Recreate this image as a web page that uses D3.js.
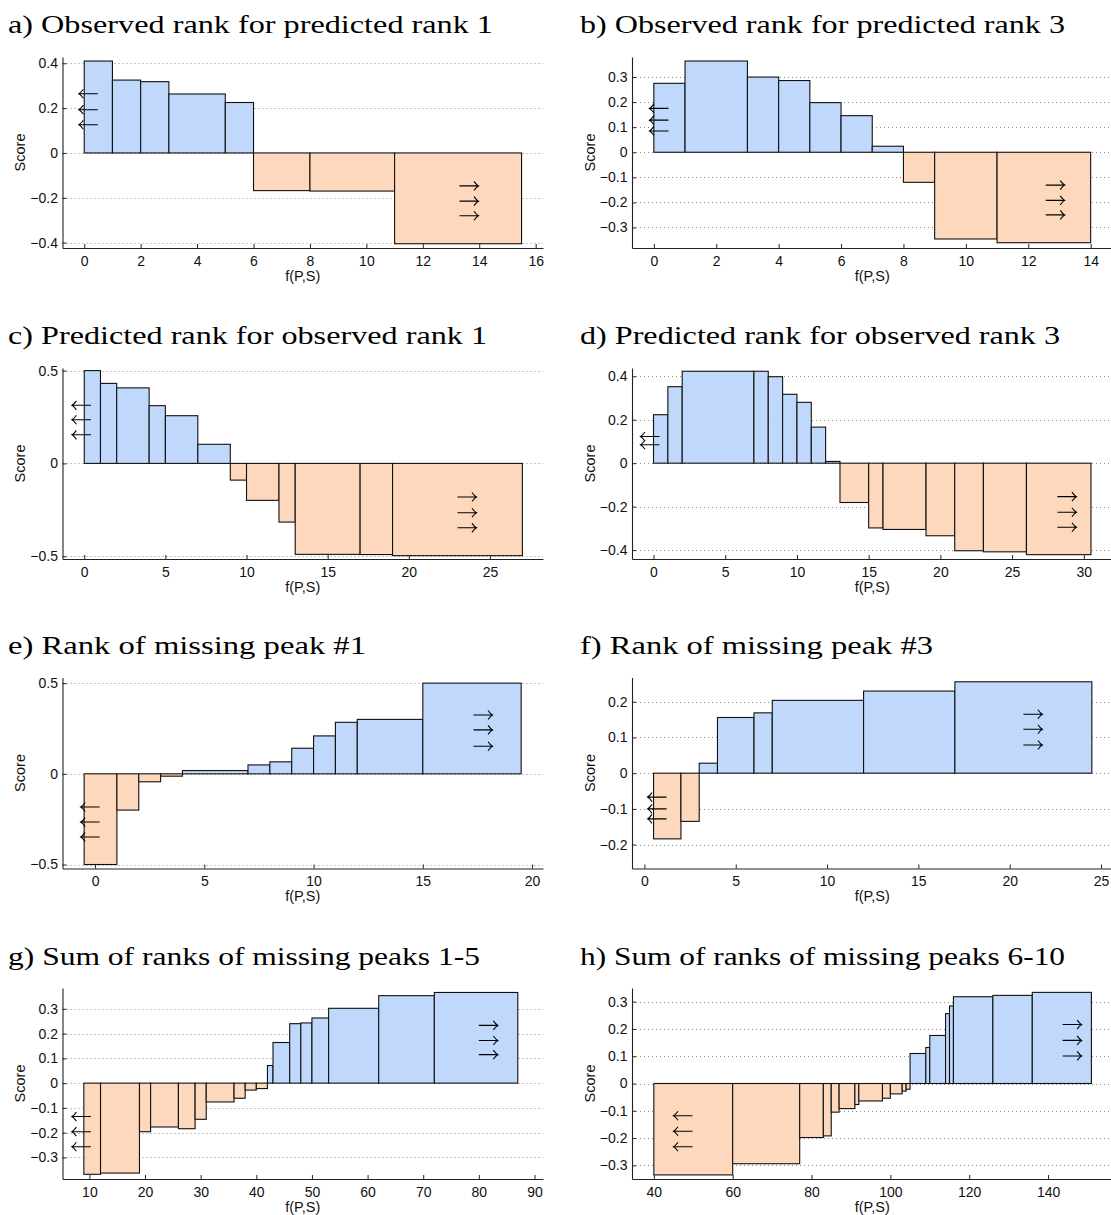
<!DOCTYPE html>
<html><head><meta charset="utf-8">
<script src="https://cdn.jsdelivr.net/npm/d3@7"></script>
<style>body{margin:0;background:#fff} svg{display:block}</style>
</head><body>
<svg id="chart" width="1111" height="1215"></svg>
<script>
// ---------- data ----------
const titles = [
  "a) Observed rank for predicted rank 1",
  "b) Observed rank for predicted rank 3",
  "c) Predicted rank for observed rank 1",
  "d) Predicted rank for observed rank 3",
  "e) Rank of missing peak #1",
  "f) Rank of missing peak #3",
  "g) Sum of ranks of missing peaks 1-5",
  "h) Sum of ranks of missing peaks 6-10"
];
const xLabel = "f(P,S)";
const yLabel = "Score";

const aEdges = [0,1,2,3,5,6,8,11,15.5];
const aScores = [0.41,0.325,0.318,0.263,0.225,-0.168,-0.17,-0.405];
const bEdges = [0,1,3,4,5,6,7,8,9,11,14];
const bScores = [0.275,0.364,0.30,0.286,0.198,0.146,0.024,-0.12,-0.346,-0.361];
const cEdges = [0,1,2,4,5,7,9,10,12,13,17,19,27];
const cScores = [0.5,0.431,0.407,0.311,0.257,0.103,-0.09,-0.199,-0.316,-0.49,-0.491,-0.497];
const dEdges = [0,1,2,7,8,9,10,11,12,13,15,16,19,21,23,26,30.5];
const dScores = [0.223,0.352,0.423,0.423,0.398,0.317,0.28,0.166,0.008,-0.181,-0.298,-0.305,-0.334,-0.403,-0.408,-0.421];
const eEdges = [-0.5,1,2,3,4,7,8,9,10,11,12,15,19.5];
const eScores = [-0.5,-0.2,-0.044,-0.013,0.018,0.049,0.066,0.141,0.209,0.284,0.3,0.5];
const fEdges = [0.5,2,3,4,6,7,12,17,24.5];
const fScores = [-0.184,-0.135,0.028,0.156,0.169,0.204,0.23,0.256];
const gEdges = [9,12,19,21,26,29,31,36,38,40,42,43,46,48,50,53,62,72,87];
const gScores = [-0.368,-0.363,-0.196,-0.177,-0.184,-0.146,-0.076,-0.061,-0.028,-0.022,0.071,0.164,0.24,0.243,0.263,0.302,0.353,0.366];
const hEdges = [40,60,77,83,85,87,91,92,98,100,103,104,105,109,110,114,115,116,126,136,151];
const hScores = [-0.335,-0.294,-0.198,-0.192,-0.105,-0.092,-0.077,-0.064,-0.054,-0.038,-0.028,-0.021,0.11,0.132,0.176,0.256,0.284,0.318,0.323,0.334];

// tick labels
const aXTicks = [0,2,4,6,8,10,12,14,16], aYTicks = [-0.4,-0.2,0,0.2,0.4];
const bXTicks = [0,2,4,6,8,10,12,14],    bYTicks = [-0.3,-0.2,-0.1,0,0.1,0.2,0.3];
const cXTicks = [0,5,10,15,20,25],       cYTicks = [-0.5,0,0.5];
const dXTicks = [0,5,10,15,20,25,30],    dYTicks = [-0.4,-0.2,0,0.2,0.4];
const eXTicks = [0,5,10,15,20],          eYTicks = [-0.5,0,0.5];
const fXTicks = [0,5,10,15,20,25],       fYTicks = [-0.2,-0.1,0,0.1,0.2];
const gXTicks = [10,20,30,40,50,60,70,80,90], gYTicks = [-0.3,-0.2,-0.1,0,0.1,0.2,0.3];
const hXTicks = [40,60,80,100,120,140],  hYTicks = [-0.3,-0.2,-0.1,0,0.1,0.2,0.3];

// axis limits
const aXLim = [-0.77,16.26],  aYLim = [-0.424,0.428];
const bXLim = [-0.70,14.70],  bYLim = [-0.382,0.38];
const cXLim = [-1.34,28.27],  cYLim = [-0.515,0.514];
const dXLim = [-1.50,32.0],   dYLim = [-0.441,0.438];
const eXLim = [-1.49,20.5],   eYLim = [-0.522,0.531];
const fXLim = [-0.68,25.63],  fYLim = [-0.267,0.268];
const gXLim = [5.165,91.53],  gYLim = [-0.387,0.384];
const hXLim = [34.46,156.35], hYLim = [-0.35,0.35];

// arrow annotations: x of the glyph's left end, y of each arrow (data units)
const aLeftArrowX = -0.19, aLeftArrowY = [0.264,0.193,0.126], aRightArrowX = 13.3,  aRightArrowY = [-0.147,-0.215,-0.28];
const bLeftArrowX = -0.14, bLeftArrowY = [0.175,0.128,0.085], bRightArrowX = 12.56, bRightArrowY = [-0.131,-0.192,-0.25];
const cLeftArrowX = -0.76, cLeftArrowY = [0.313,0.235,0.154], cRightArrowX = 23.0,  cRightArrowY = [-0.181,-0.266,-0.347];
const dLeftArrowX = -0.91, dLeftArrowY = [0.123,0.085],       dRightArrowX = 28.16, dRightArrowY = [-0.154,-0.226,-0.295];
const eLeftArrowX = -0.66, eLeftArrowY = [-0.183,-0.266,-0.348], eRightArrowX = 17.32, eRightArrowY = [0.324,0.242,0.152];
const fLeftArrowX = 0.17,  fLeftArrowY = [-0.067,-0.1,-0.128], fRightArrowX = 20.75, fRightArrowY = [0.165,0.123,0.079];
const gLeftArrowX = 6.85,  gLeftArrowY = [-0.135,-0.196,-0.257], gRightArrowX = 80.0, gRightArrowY = [0.233,0.172,0.115];
const hLeftArrowX = 44.99, hLeftArrowY = [-0.118,-0.175,-0.232], hRightArrowX = 143.7, hRightArrowY = [0.216,0.158,0.101];

// ---------- build panels ----------
const panels = [
  {t:titles[0], e:aEdges, s:aScores, xt:aXTicks, yt:aYTicks, xl:aXLim, yl:aYLim, la:[aLeftArrowX,aLeftArrowY], ra:[aRightArrowX,aRightArrowY]},
  {t:titles[1], e:bEdges, s:bScores, xt:bXTicks, yt:bYTicks, xl:bXLim, yl:bYLim, la:[bLeftArrowX,bLeftArrowY], ra:[bRightArrowX,bRightArrowY]},
  {t:titles[2], e:cEdges, s:cScores, xt:cXTicks, yt:cYTicks, xl:cXLim, yl:cYLim, la:[cLeftArrowX,cLeftArrowY], ra:[cRightArrowX,cRightArrowY]},
  {t:titles[3], e:dEdges, s:dScores, xt:dXTicks, yt:dYTicks, xl:dXLim, yl:dYLim, la:[dLeftArrowX,dLeftArrowY], ra:[dRightArrowX,dRightArrowY]},
  {t:titles[4], e:eEdges, s:eScores, xt:eXTicks, yt:eYTicks, xl:eXLim, yl:eYLim, la:[eLeftArrowX,eLeftArrowY], ra:[eRightArrowX,eRightArrowY]},
  {t:titles[5], e:fEdges, s:fScores, xt:fXTicks, yt:fYTicks, xl:fXLim, yl:fYLim, la:[fLeftArrowX,fLeftArrowY], ra:[fRightArrowX,fRightArrowY]},
  {t:titles[6], e:gEdges, s:gScores, xt:gXTicks, yt:gYTicks, xl:gXLim, yl:gYLim, la:[gLeftArrowX,gLeftArrowY], ra:[gRightArrowX,gRightArrowY]},
  {t:titles[7], e:hEdges, s:hScores, xt:hXTicks, yt:hYTicks, xl:hXLim, yl:hYLim, la:[hLeftArrowX,hLeftArrowY], ra:[hRightArrowX,hRightArrowY]}
];

// ---------- layout & style ----------
const BLUE = "#bfd8fc", ORANGE = "#fdd8bd";
const colX = [62.5, 632];
const plotW = 480.5;
const rowTop = [57, 368, 677.5, 988];
const plotH = 191;
const titleX = [8, 580];
const titleBase = [33, 343.5, 654, 964.5];
const titleW = [485, 485, 479, 480, 358, 353, 472, 485];
const sans = "'Liberation Sans', Arial, Helvetica, sans-serif";
const serif = "'Liberation Serif', 'Times New Roman', serif";
const fmt = d => d === 0 ? "0" : (d < 0 ? "\u2212" : "") + String(Math.abs(d));
const ARROW = 19;

const svg = d3.select("#chart");

panels.forEach((p, i) => {
  const col = i % 2, row = Math.floor(i / 2);
  const x0 = colX[col], y0 = rowTop[row];
  const x = d3.scaleLinear().domain(p.xl).range([x0, x0 + plotW]);
  const y = d3.scaleLinear().domain(p.yl).range([y0 + plotH, y0]);
  const g = svg.append("g");

  // title
  svg.append("text")
    .attr("x", titleX[col]).attr("y", titleBase[row])
    .attr("font-family", serif).attr("font-size", 25)
    .attr("textLength", titleW[i]).attr("lengthAdjust", "spacingAndGlyphs")
    .attr("fill", "#000")
    .text(p.t);

  // dotted grid
  g.append("g").selectAll("line").data(p.yt).join("line")
    .attr("x1", x0).attr("x2", x0 + plotW)
    .attr("y1", d => Math.round(y(d)) + 0.5).attr("y2", d => Math.round(y(d)) + 0.5)
    .attr("stroke", "#8a8a8a").attr("stroke-width", 1)
    .attr("stroke-dasharray", "1,3");

  // bars
  const bars = p.s.map((v, k) => ({a: p.e[k], b: p.e[k + 1], v}));
  g.append("g").selectAll("rect").data(bars).join("rect")
    .attr("x", d => x(d.a)).attr("width", d => x(d.b) - x(d.a))
    .attr("y", d => y(Math.max(0, d.v)))
    .attr("height", d => Math.abs(y(d.v) - y(0)))
    .attr("fill", d => d.v >= 0 ? BLUE : ORANGE)
    .attr("stroke", "#111").attr("stroke-width", 1.1);

  // arrows
  const drawArrow = (px, py, dir) => {
    const path = d3.path();
    if (dir < 0) {
      path.moveTo(px, py); path.lineTo(px + ARROW, py);
      path.moveTo(px + 4.5, py - 4.5);
      path.quadraticCurveTo(px + 2, py - 1, px, py);
      path.quadraticCurveTo(px + 2, py + 1, px + 4.5, py + 4.5);
    } else {
      const hx = px + ARROW;
      path.moveTo(px, py); path.lineTo(hx, py);
      path.moveTo(hx - 4.5, py - 4.5);
      path.quadraticCurveTo(hx - 2, py - 1, hx, py);
      path.quadraticCurveTo(hx - 2, py + 1, hx - 4.5, py + 4.5);
    }
    g.append("path").attr("d", path.toString())
      .attr("fill", "none").attr("stroke", "#000").attr("stroke-width", 1.1);
  };
  p.la[1].forEach(v => drawArrow(x(p.la[0]), y(v), -1));
  p.ra[1].forEach(v => drawArrow(x(p.ra[0]), y(v), 1));

  // axes
  const xa = g.append("g").attr("transform", `translate(0,${y0 + plotH})`)
    .call(d3.axisBottom(x).tickValues(p.xt).tickFormat(fmt)
      .tickSizeInner(-4).tickSizeOuter(0).tickPadding(8));
  const ya = g.append("g").attr("transform", `translate(${x0},0)`)
    .call(d3.axisLeft(y).tickValues(p.yt).tickFormat(fmt)
      .tickSizeInner(-4).tickSizeOuter(0).tickPadding(4.5));
  [xa, ya].forEach(a => {
    a.selectAll("path.domain").attr("stroke", "#222").attr("stroke-width", 1.1);
    a.selectAll(".tick line").attr("stroke", "#222");
    a.selectAll("text").attr("font-family", sans).attr("font-size", 14).attr("fill", "#111");
  });

  // axis labels
  svg.append("text")
    .attr("x", x0 + plotW / 2).attr("y", y0 + plotH + 32.5)
    .attr("text-anchor", "middle")
    .attr("font-family", sans).attr("font-size", 14.5).attr("fill", "#111")
    .text(xLabel);
  svg.append("text")
    .attr("transform", `translate(${x0 - 37.5},${y0 + plotH / 2}) rotate(-90)`)
    .attr("text-anchor", "middle")
    .attr("font-family", sans).attr("font-size", 14.5).attr("fill", "#111")
    .text(yLabel);
});
</script>
</body></html>
